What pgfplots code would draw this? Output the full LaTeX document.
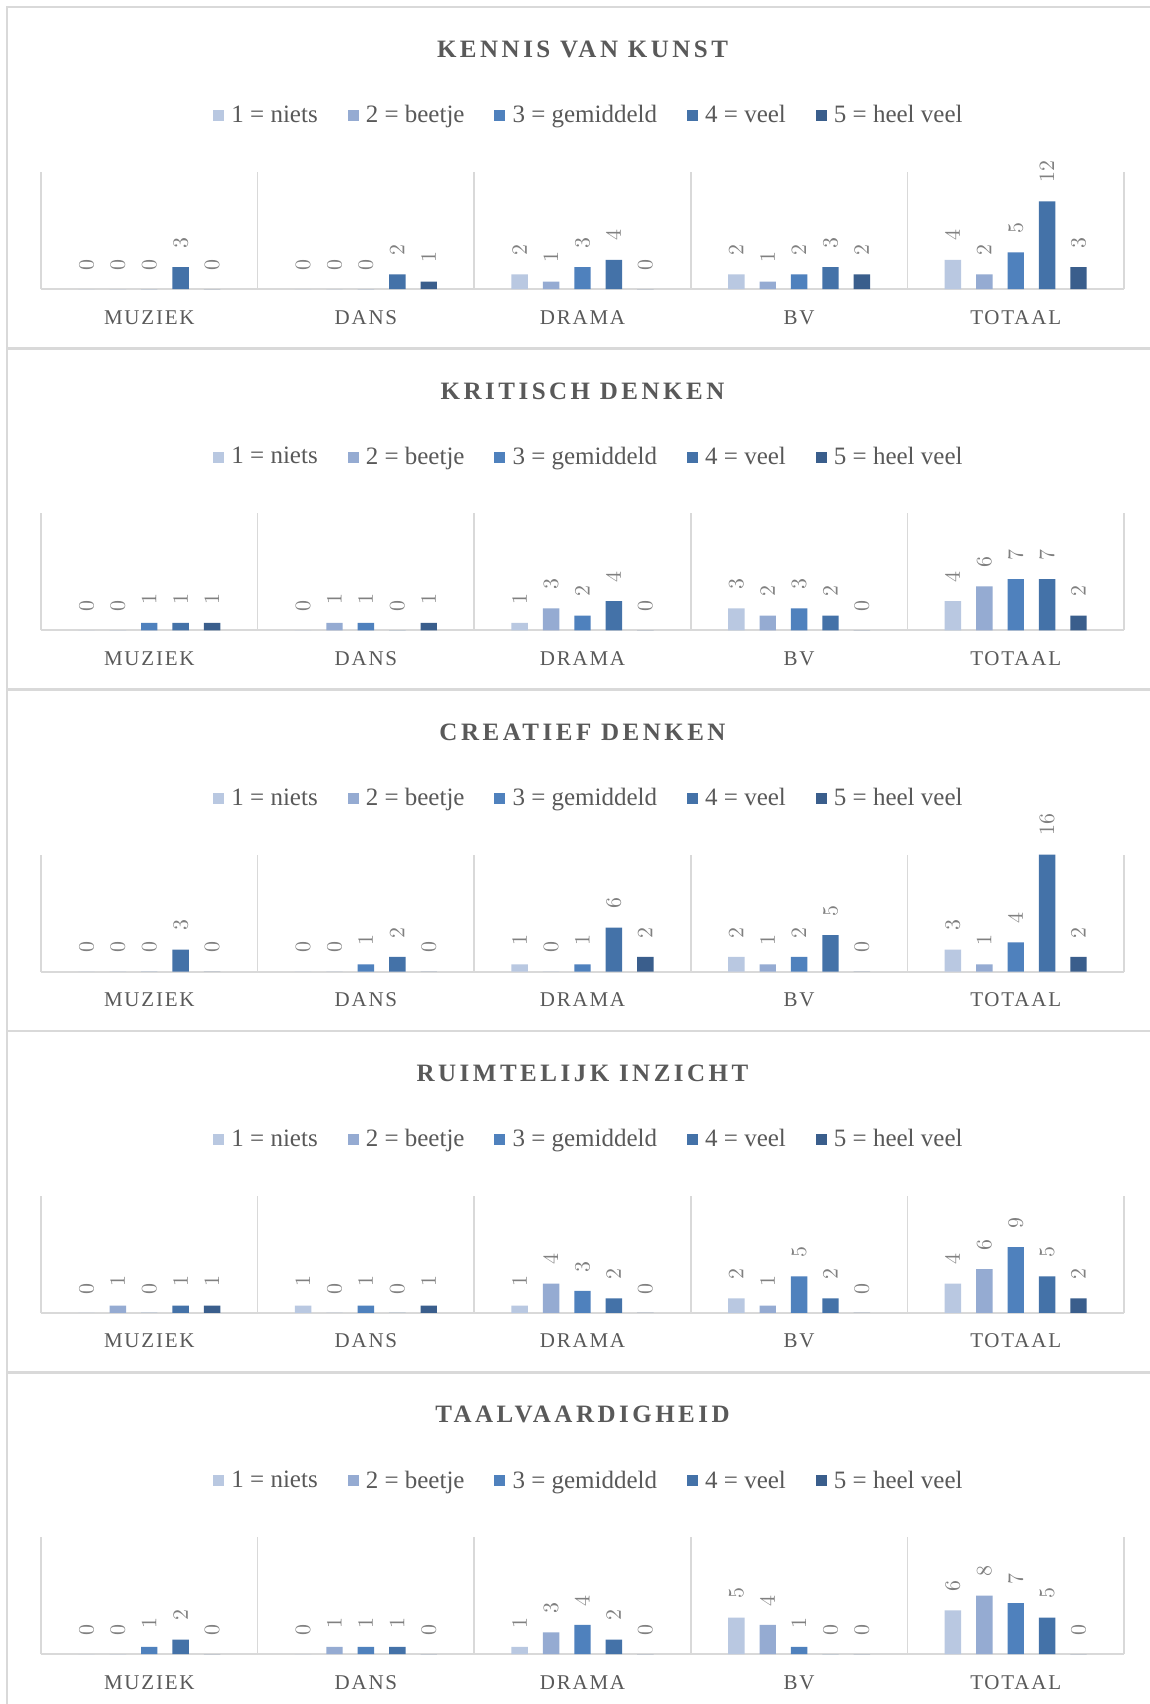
\documentclass[border=0pt]{standalone}
\usepackage{pgfplots}
\pgfplotsset{compat=1.18}
\usepackage{fontspec}
\setmainfont{Liberation Serif}
\newfontfamily\catfamily[LetterSpace=8.5]{Liberation Serif}
\newfontfamily\titlefamily[LetterSpace=14]{Liberation Serif}
\definecolor{cA}{RGB}{185,200,225}
\definecolor{cB}{RGB}{149,171,210}
\definecolor{cC}{RGB}{79,129,189}
\definecolor{cD}{RGB}{68,114,168}
\definecolor{cE}{RGB}{58,94,140}
\definecolor{sepgray}{RGB}{217,217,217}
\definecolor{txtgray}{RGB}{89,89,89}
\definecolor{lblgray}{RGB}{128,128,128}
\pgfplotsset{
  mypanel/.style={
    anchor=south west,
    scale only axis, width=541.5pt, height=58.5pt,
    ymin=0, ymax=16, xmin=-0.5, xmax=4.5,
    ybar=7.5pt, bar width=8.2pt,
    axis x line*=bottom, axis y line=none,
    x axis line style={draw=sepgray, line width=0.9pt, -},
    xtick={0,1,2,3,4}, xticklabels={MUZIEK,DANS,DRAMA,BV,TOTAAL},
    major tick length=0pt,
    minor xtick={-0.5,0.5,1.5,2.5,3.5,4.5},
    minor tick length=0pt,
    xminorgrids, minor x grid style={draw=sepgray, line width=0.9pt},
    xticklabel style={font=\catfamily\fontsize{10.5}{12}\selectfont, text=txtgray, anchor=base, inner sep=0pt, yshift=-17.5pt},
    ytick=\empty,
    clip=false,
    nodes near coords,
    nodes near coords style={rotate=90, anchor=west, font=\fontsize{10.8}{12}\selectfont, text=lblgray, inner xsep=9.2pt, inner ysep=0pt},
    title style={at={(0.5,1.944)}, anchor=center, text=txtgray, inner sep=0pt, font=\titlefamily\bfseries\fontsize{12.5}{14}\selectfont},
    legend columns=5,
    legend style={at={(0.505,1.481)}, anchor=center, draw=none, fill=none,
      font=\fontsize{12.5}{15}\selectfont, text=txtgray,
      nodes={inner xsep=0pt, inner ysep=1pt},
      /tikz/every odd column/.append style={column sep=3.6pt},
      /tikz/every even column/.append style={column sep=14.9pt}},
    legend image code/.code={\fill[##1] (0pt,-2.75pt) rectangle (5.5pt,2.75pt);},
  }
}
\begin{document}
\begin{tikzpicture}
\useasboundingbox (0,0) rectangle (575pt,-852pt);
\fill[white] (0,0) rectangle (575pt,-852pt);
\foreach \k in {0,1,2,3,4}{
  \draw[sepgray, line width=1.3pt] (3.5pt,{-3.5pt-170.65pt*\k}) rectangle (590pt,{-3.5pt-170.65pt*(\k+1)});
}
% Panel 1
\begin{axis}[mypanel, at={(20.5pt,-144.5pt)}, title={KENNIS VAN KUNST}]
\addplot[fill=cA, draw=none] coordinates {(0,0) (1,0) (2,2) (3,2) (4,4)};
\addplot[fill=cB, draw=none] coordinates {(0,0) (1,0) (2,1) (3,1) (4,2)};
\addplot[fill=cC, draw=none] coordinates {(0,0) (1,0) (2,3) (3,2) (4,5)};
\addplot[fill=cD, draw=none] coordinates {(0,3) (1,2) (2,4) (3,3) (4,12)};
\addplot[fill=cE, draw=none] coordinates {(0,0) (1,1) (2,0) (3,2) (4,3)};
\legend{1 = niets, 2 = beetje, 3 = gemiddeld, 4 = veel, 5 = heel veel}
\end{axis}
% Panel 2
\begin{axis}[mypanel, at={(20.5pt,-315.15pt)}, title={KRITISCH DENKEN}]
\addplot[fill=cA, draw=none] coordinates {(0,0) (1,0) (2,1) (3,3) (4,4)};
\addplot[fill=cB, draw=none] coordinates {(0,0) (1,1) (2,3) (3,2) (4,6)};
\addplot[fill=cC, draw=none] coordinates {(0,1) (1,1) (2,2) (3,3) (4,7)};
\addplot[fill=cD, draw=none] coordinates {(0,1) (1,0) (2,4) (3,2) (4,7)};
\addplot[fill=cE, draw=none] coordinates {(0,1) (1,1) (2,0) (3,0) (4,2)};
\legend{1 = niets, 2 = beetje, 3 = gemiddeld, 4 = veel, 5 = heel veel}
\end{axis}
% Panel 3
\begin{axis}[mypanel, at={(20.5pt,-485.8pt)}, title={CREATIEF DENKEN}]
\addplot[fill=cA, draw=none] coordinates {(0,0) (1,0) (2,1) (3,2) (4,3)};
\addplot[fill=cB, draw=none] coordinates {(0,0) (1,0) (2,0) (3,1) (4,1)};
\addplot[fill=cC, draw=none] coordinates {(0,0) (1,1) (2,1) (3,2) (4,4)};
\addplot[fill=cD, draw=none] coordinates {(0,3) (1,2) (2,6) (3,5) (4,16)};
\addplot[fill=cE, draw=none] coordinates {(0,0) (1,0) (2,2) (3,0) (4,2)};
\legend{1 = niets, 2 = beetje, 3 = gemiddeld, 4 = veel, 5 = heel veel}
\end{axis}
% Panel 4
\begin{axis}[mypanel, at={(20.5pt,-656.45pt)}, title={RUIMTELIJK INZICHT}]
\addplot[fill=cA, draw=none] coordinates {(0,0) (1,1) (2,1) (3,2) (4,4)};
\addplot[fill=cB, draw=none] coordinates {(0,1) (1,0) (2,4) (3,1) (4,6)};
\addplot[fill=cC, draw=none] coordinates {(0,0) (1,1) (2,3) (3,5) (4,9)};
\addplot[fill=cD, draw=none] coordinates {(0,1) (1,0) (2,2) (3,2) (4,5)};
\addplot[fill=cE, draw=none] coordinates {(0,1) (1,1) (2,0) (3,0) (4,2)};
\legend{1 = niets, 2 = beetje, 3 = gemiddeld, 4 = veel, 5 = heel veel}
\end{axis}
% Panel 5
\begin{axis}[mypanel, at={(20.5pt,-827.1pt)}, title={TAALVAARDIGHEID}]
\addplot[fill=cA, draw=none] coordinates {(0,0) (1,0) (2,1) (3,5) (4,6)};
\addplot[fill=cB, draw=none] coordinates {(0,0) (1,1) (2,3) (3,4) (4,8)};
\addplot[fill=cC, draw=none] coordinates {(0,1) (1,1) (2,4) (3,1) (4,7)};
\addplot[fill=cD, draw=none] coordinates {(0,2) (1,1) (2,2) (3,0) (4,5)};
\addplot[fill=cE, draw=none] coordinates {(0,0) (1,0) (2,0) (3,0) (4,0)};
\legend{1 = niets, 2 = beetje, 3 = gemiddeld, 4 = veel, 5 = heel veel}
\end{axis}
\end{tikzpicture}
\end{document}
